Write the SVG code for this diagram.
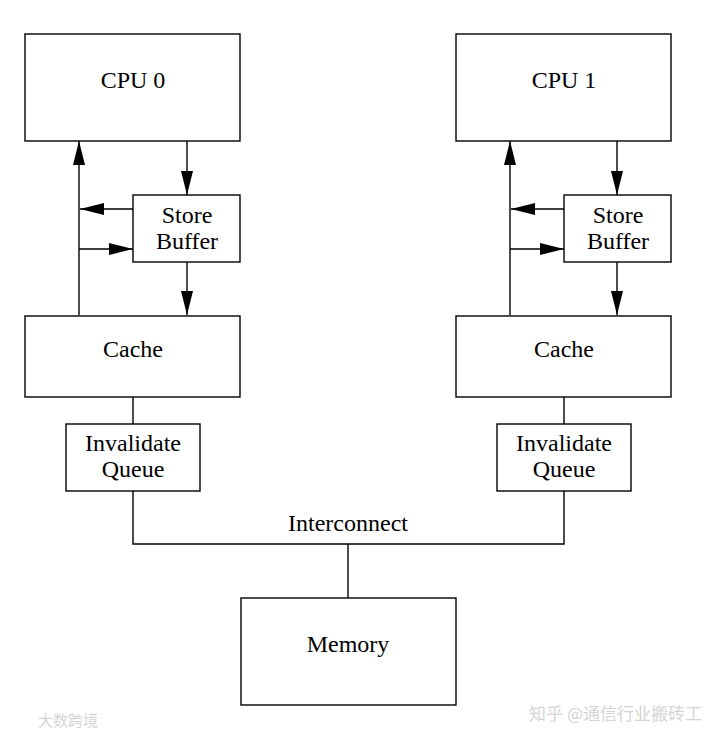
<svg xmlns="http://www.w3.org/2000/svg" width="720" height="741" viewBox="0 0 720 741">
<defs>
<marker id="ah" markerWidth="24" markerHeight="12" refX="24" refY="6" orient="auto" markerUnits="userSpaceOnUse">
<path d="M0,0 L24,6 L0,12 Z" fill="#000"/>
</marker>
<style>
.box{fill:#fff;stroke:#000;stroke-width:1.4}
.t{font-family:"Liberation Serif","Times New Roman",serif;font-size:24px;fill:#000;text-anchor:middle}
.c{fill:none;stroke:#000;stroke-width:1.4}
.wm{font-family:"Noto Sans CJK SC",sans-serif;fill:#d4d4d4}
</style>
</defs>
<rect width="720" height="741" fill="#fff"/>
<g id="connectors">
<path class="c" d="M79,315 V141" marker-end="url(#ah)"/>
<path class="c" d="M133,209 H80" marker-end="url(#ah)"/>
<path class="c" d="M79,249 H133" marker-end="url(#ah)"/>
<path class="c" d="M187,141 V195" marker-end="url(#ah)"/>
<path class="c" d="M187,262 V315" marker-end="url(#ah)"/>
<path class="c" d="M133,397 V424"/>
<path class="c" d="M510,315 V141" marker-end="url(#ah)"/>
<path class="c" d="M564,209 H511" marker-end="url(#ah)"/>
<path class="c" d="M510,249 H564" marker-end="url(#ah)"/>
<path class="c" d="M617,141 V195" marker-end="url(#ah)"/>
<path class="c" d="M617,262 V315" marker-end="url(#ah)"/>
<path class="c" d="M564,397 V424"/>
<path class="c" d="M133,491 V544 H564 V491"/>
<path class="c" d="M348,544 V598"/>
<text class="t" x="348" y="531">Interconnect</text>
</g>
<g id="cpu0"><rect class="box" x="25" y="34" width="215" height="107"/><text class="t" x="133" y="88">CPU 0</text></g>
<g id="sb0"><rect class="box" x="133" y="195" width="107" height="67"/><text class="t" x="187" y="223">Store</text><text class="t" x="187" y="249">Buffer</text></g>
<g id="cache0"><rect class="box" x="25" y="316" width="215" height="81"/><text class="t" x="133" y="357">Cache</text></g>
<g id="iq0"><rect class="box" x="66" y="424" width="134" height="67"/><text class="t" x="133" y="451">Invalidate</text><text class="t" x="133" y="477">Queue</text></g>
<g id="cpu1"><rect class="box" x="456" y="34" width="215" height="107"/><text class="t" x="564" y="88">CPU 1</text></g>
<g id="sb1"><rect class="box" x="564" y="195" width="107" height="67"/><text class="t" x="618" y="223">Store</text><text class="t" x="618" y="249">Buffer</text></g>
<g id="cache1"><rect class="box" x="456" y="316" width="215" height="81"/><text class="t" x="564" y="357">Cache</text></g>
<g id="iq1"><rect class="box" x="497" y="424" width="134" height="67"/><text class="t" x="564" y="451">Invalidate</text><text class="t" x="564" y="477">Queue</text></g>
<g id="memory"><rect class="box" x="241" y="598" width="215" height="107"/><text class="t" x="348" y="652">Memory</text></g>
<text class="wm" x="38" y="726" font-size="15">大数跨境</text>
<text class="wm" x="702" y="720" font-size="17" text-anchor="end">知乎 @通信行业搬砖工</text>
</svg>
